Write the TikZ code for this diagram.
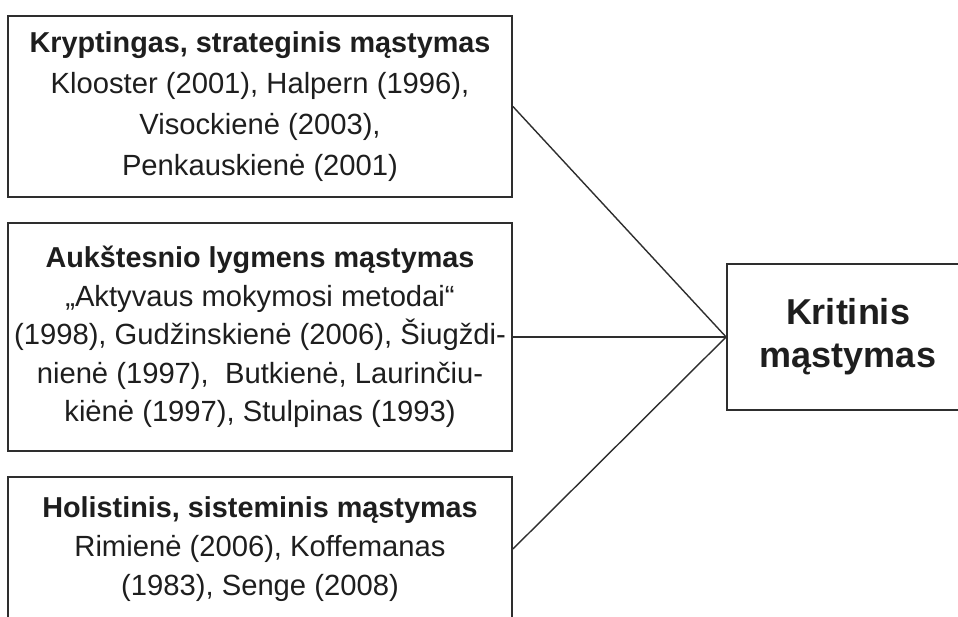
\documentclass[tikz,border=0pt]{standalone}
\usepackage{fontspec}
\setmainfont{Liberation Sans}
\definecolor{ink}{HTML}{1E1E1E}
\definecolor{frame}{HTML}{2E2E2E}
\newcommand\boxhead[1]{{\fontsize{28.8}{40}\selectfont\bfseries #1}}
\begin{document}
\begin{tikzpicture}[x=1pt,y=-1pt,
  box/.style={draw=frame, line width=1.8pt, inner sep=0pt, align=center, text=ink},
  bigbox/.style={draw=frame, line width=1.8pt, inner sep=0pt, align=center, text=ink,
              font=\fontsize{36}{43}\selectfont\bfseries},
  link/.style={draw=frame, line width=1.4pt}]
\useasboundingbox (0,0) rectangle (958,617);
\clip (0,0) rectangle (958,617);
\fill[white] (0,0) rectangle (958,617);
\node[box, font=\fontsize{29.2}{41}\selectfont, minimum width=504pt, minimum height=181pt] (k1) at (260,106.5)
  {\boxhead{Kryptingas, strateginis mąstymas}\\
   Klooster (2001), Halpern (1996),\\
   Visockienė (2003),\\
   Penkauskienė (2001)};
\node[box, font=\fontsize{29.2}{38.5}\selectfont, minimum width=504pt, minimum height=228pt] (k2) at (260,337)
  {\boxhead{Aukštesnio lygmens mąstymas}\\
   „Aktyvaus mokymosi metodai“\\
   (1998), Gudžinskienė (2006), Šiugždi-\\
   nienė (1997),\ \ Butkienė, Laurinčiu-\\
   kiėnė (1997), Stulpinas (1993)};
\node[box, font=\fontsize{29.2}{39}\selectfont, minimum width=504pt, minimum height=144pt] (k3) at (260,549)
  {\boxhead{Holistinis, sisteminis mąstymas}\\
   Rimienė (2006), Koffemanas\\
   (1983), Senge (2008)};
\node[bigbox, minimum width=242pt, minimum height=146pt] (kt) at (848,337)
  {Kritinis\\mąstymas};
\draw[link] (k1.east) -- (kt.west);
\draw[link] (k2.east) -- (kt.west);
\draw[link] (k3.east) -- (kt.west);
\end{tikzpicture}
\end{document}
